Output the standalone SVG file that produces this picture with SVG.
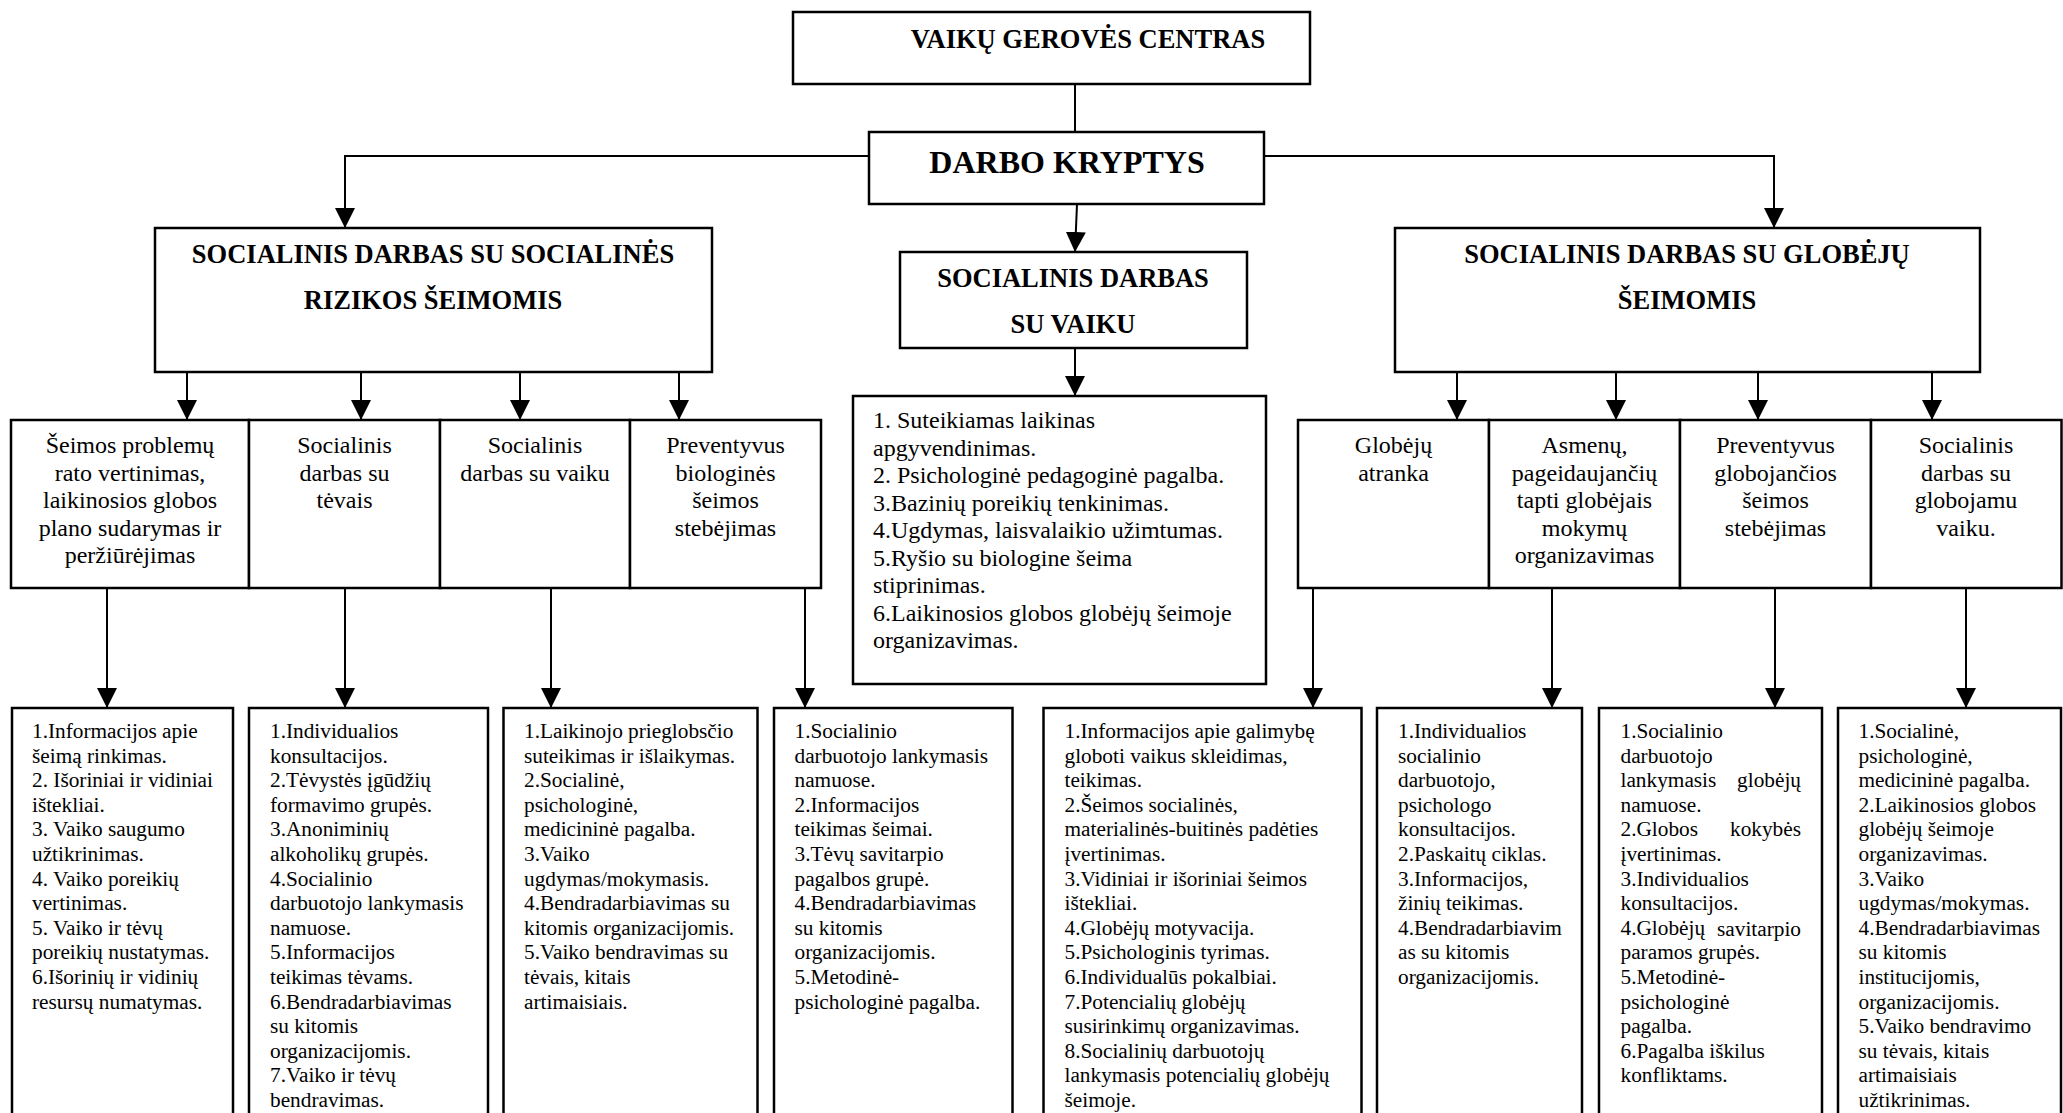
<svg xmlns="http://www.w3.org/2000/svg" width="2063" height="1113" viewBox="0 0 2063 1113">
<defs>
<marker id="arr" viewBox="0 0 20 20" refX="20" refY="10" markerWidth="20" markerHeight="20" markerUnits="userSpaceOnUse" orient="auto">
<path d="M0,0 L20,10 L0,20 Z" fill="#000"/>
</marker>
<style>
.box{fill:#fff;stroke:#000;stroke-width:2.5}
.cn{fill:none;stroke:#000;stroke-width:2;marker-end:url(#arr)}
.ln{fill:none;stroke:#000;stroke-width:2}
text{font-family:"Liberation Serif","Times New Roman",serif;fill:#000}
.h{font-weight:bold;font-size:26.5px;text-anchor:middle}
.hd{font-weight:bold;font-size:32px;text-anchor:middle}
.m{font-size:24px;text-anchor:middle}
.c{font-size:24px}
.b{font-size:21.3px}
.e{text-anchor:end}
</style>
</defs>
<rect width="2063" height="1113" fill="#fff"/>

<g id="connectors">
<line class="ln" x1="1075" y1="84" x2="1075" y2="132"/>
<polyline class="cn" points="869,156 345,156 345,228"/>
<polyline class="cn" points="1264,156 1774,156 1774,228"/>
<line class="cn" x1="1077" y1="204" x2="1075" y2="252"/>
<line class="cn" x1="187" y1="372" x2="187" y2="420"/>
<line class="cn" x1="361" y1="372" x2="361" y2="420"/>
<line class="cn" x1="520" y1="372" x2="520" y2="420"/>
<line class="cn" x1="679" y1="372" x2="679" y2="420"/>
<line class="cn" x1="1457" y1="372" x2="1457" y2="420"/>
<line class="cn" x1="1616" y1="372" x2="1616" y2="420"/>
<line class="cn" x1="1758" y1="372" x2="1758" y2="420"/>
<line class="cn" x1="1932" y1="372" x2="1932" y2="420"/>
<line class="cn" x1="1075" y1="348" x2="1075" y2="396"/>
<line class="cn" x1="107" y1="588" x2="107" y2="708"/>
<line class="cn" x1="345" y1="588" x2="345" y2="708"/>
<line class="cn" x1="551" y1="588" x2="551" y2="708"/>
<line class="cn" x1="805" y1="588" x2="805" y2="708"/>
<line class="cn" x1="1313" y1="588" x2="1313" y2="708"/>
<line class="cn" x1="1552" y1="588" x2="1552" y2="708"/>
<line class="cn" x1="1775" y1="588" x2="1775" y2="708"/>
<line class="cn" x1="1966" y1="588" x2="1966" y2="708"/>
</g>

<g id="vgc">
<rect class="box" x="793" y="12" width="517" height="72"/>
<text class="h" x="1088" y="48">VAIKŲ GEROVĖS CENTRAS</text>
</g>

<g id="darbo">
<rect class="box" x="869" y="132" width="395" height="72"/>
<text class="hd" x="1067" y="173">DARBO KRYPTYS</text>
</g>

<g id="rizikos">
<rect class="box" x="155" y="228" width="557" height="144"/>
<text class="h" x="433" y="263">SOCIALINIS DARBAS SU SOCIALINĖS</text>
<text class="h" x="433" y="309">RIZIKOS ŠEIMOMIS</text>
</g>

<g id="vaiku">
<rect class="box" x="900" y="252" width="347" height="96"/>
<text class="h" x="1073" y="287">SOCIALINIS DARBAS</text>
<text class="h" x="1073" y="333">SU VAIKU</text>
</g>

<g id="globeju">
<rect class="box" x="1395" y="228" width="585" height="144"/>
<text class="h" x="1687" y="263">SOCIALINIS DARBAS SU GLOBĖJŲ</text>
<text class="h" x="1687" y="309">ŠEIMOMIS</text>
</g>

<g id="l1">
<rect class="box" x="11" y="420" width="238" height="168"/>
<text class="m"><tspan x="130" y="453.3">Šeimos problemų</tspan><tspan x="130" dy="27.4">rato vertinimas,</tspan><tspan x="130" dy="27.4">laikinosios globos</tspan><tspan x="130" dy="27.4">plano sudarymas ir</tspan><tspan x="130" dy="27.4">peržiūrėjimas</tspan></text>
</g>
<g id="l2">
<rect class="box" x="249" y="420" width="191" height="168"/>
<text class="m"><tspan x="344.5" y="453.3">Socialinis</tspan><tspan x="344.5" dy="27.4">darbas su</tspan><tspan x="344.5" dy="27.4">tėvais</tspan></text>
</g>
<g id="l3">
<rect class="box" x="440" y="420" width="190" height="168"/>
<text class="m"><tspan x="535" y="453.3">Socialinis</tspan><tspan x="535" dy="27.4">darbas su vaiku</tspan></text>
</g>
<g id="l4">
<rect class="box" x="630" y="420" width="191" height="168"/>
<text class="m"><tspan x="725.5" y="453.3">Preventyvus</tspan><tspan x="725.5" dy="27.4">biologinės</tspan><tspan x="725.5" dy="27.4">šeimos</tspan><tspan x="725.5" dy="27.4">stebėjimas</tspan></text>
</g>

<g id="r1">
<rect class="box" x="1298" y="420" width="191" height="168"/>
<text class="m"><tspan x="1393.5" y="453.3">Globėjų</tspan><tspan x="1393.5" dy="27.4">atranka</tspan></text>
</g>
<g id="r2">
<rect class="box" x="1489" y="420" width="191" height="168"/>
<text class="m"><tspan x="1584.5" y="453.3">Asmenų,</tspan><tspan x="1584.5" dy="27.4">pageidaujančių</tspan><tspan x="1584.5" dy="27.4">tapti globėjais</tspan><tspan x="1584.5" dy="27.4">mokymų</tspan><tspan x="1584.5" dy="27.4">organizavimas</tspan></text>
</g>
<g id="r3">
<rect class="box" x="1680" y="420" width="191" height="168"/>
<text class="m"><tspan x="1775.5" y="453.3">Preventyvus</tspan><tspan x="1775.5" dy="27.4">globojančios</tspan><tspan x="1775.5" dy="27.4">šeimos</tspan><tspan x="1775.5" dy="27.4">stebėjimas</tspan></text>
</g>
<g id="r4">
<rect class="box" x="1871" y="420" width="190.5" height="168"/>
<text class="m"><tspan x="1966" y="453.3">Socialinis</tspan><tspan x="1966" dy="27.4">darbas su</tspan><tspan x="1966" dy="27.4">globojamu</tspan><tspan x="1966" dy="27.4">vaiku.</tspan></text>
</g>

<g id="vaiku-list">
<rect class="box" x="853" y="396" width="413" height="288"/>
<text class="c"><tspan x="873" y="428.3">1. Suteikiamas laikinas</tspan><tspan x="873" dy="27.5">apgyvendinimas.</tspan><tspan x="873" dy="27.5">2. Psichologinė pedagoginė pagalba.</tspan><tspan x="873" dy="27.5">3.Bazinių poreikių tenkinimas.</tspan><tspan x="873" dy="27.5">4.Ugdymas, laisvalaikio užimtumas.</tspan><tspan x="873" dy="27.5">5.Ryšio su biologine šeima</tspan><tspan x="873" dy="27.5">stiprinimas.</tspan><tspan x="873" dy="27.5">6.Laikinosios globos globėjų šeimoje</tspan><tspan x="873" dy="27.5">organizavimas.</tspan></text>
</g>

<g id="b1">
<rect class="box" x="12" y="708" width="221" height="430"/>
<text class="b"><tspan x="32" y="738">1.Informacijos apie</tspan><tspan x="32" dy="24.6">šeimą rinkimas.</tspan><tspan x="32" dy="24.6">2. Išoriniai ir vidiniai</tspan><tspan x="32" dy="24.6">ištekliai.</tspan><tspan x="32" dy="24.6">3. Vaiko saugumo</tspan><tspan x="32" dy="24.6">užtikrinimas.</tspan><tspan x="32" dy="24.6">4. Vaiko poreikių</tspan><tspan x="32" dy="24.6">vertinimas.</tspan><tspan x="32" dy="24.6">5. Vaiko ir tėvų</tspan><tspan x="32" dy="24.6">poreikių nustatymas.</tspan><tspan x="32" dy="24.6">6.Išorinių ir vidinių</tspan><tspan x="32" dy="24.6">resursų numatymas.</tspan></text>
</g>
<g id="b2">
<rect class="box" x="249" y="708" width="239" height="430"/>
<text class="b"><tspan x="270" y="738">1.Individualios</tspan><tspan x="270" dy="24.6">konsultacijos.</tspan><tspan x="270" dy="24.6">2.Tėvystės įgūdžių</tspan><tspan x="270" dy="24.6">formavimo grupės.</tspan><tspan x="270" dy="24.6">3.Anoniminių</tspan><tspan x="270" dy="24.6">alkoholikų grupės.</tspan><tspan x="270" dy="24.6">4.Socialinio</tspan><tspan x="270" dy="24.6">darbuotojo lankymasis</tspan><tspan x="270" dy="24.6">namuose.</tspan><tspan x="270" dy="24.6">5.Informacijos</tspan><tspan x="270" dy="24.6">teikimas tėvams.</tspan><tspan x="270" dy="24.6">6.Bendradarbiavimas</tspan><tspan x="270" dy="24.6">su kitomis</tspan><tspan x="270" dy="24.6">organizacijomis.</tspan><tspan x="270" dy="24.6">7.Vaiko ir tėvų</tspan><tspan x="270" dy="24.6">bendravimas.</tspan></text>
</g>
<g id="b3">
<rect class="box" x="503.5" y="708" width="254" height="430"/>
<text class="b"><tspan x="524" y="738">1.Laikinojo prieglobsčio</tspan><tspan x="524" dy="24.6">suteikimas ir išlaikymas.</tspan><tspan x="524" dy="24.6">2.Socialinė,</tspan><tspan x="524" dy="24.6">psichologinė,</tspan><tspan x="524" dy="24.6">medicininė pagalba.</tspan><tspan x="524" dy="24.6">3.Vaiko</tspan><tspan x="524" dy="24.6">ugdymas/mokymasis.</tspan><tspan x="524" dy="24.6">4.Bendradarbiavimas su</tspan><tspan x="524" dy="24.6">kitomis organizacijomis.</tspan><tspan x="524" dy="24.6">5.Vaiko bendravimas su</tspan><tspan x="524" dy="24.6">tėvais, kitais</tspan><tspan x="524" dy="24.6">artimaisiais.</tspan></text>
</g>
<g id="b4">
<rect class="box" x="774" y="708" width="238.5" height="430"/>
<text class="b"><tspan x="794.5" y="738">1.Socialinio</tspan><tspan x="794.5" dy="24.6">darbuotojo lankymasis</tspan><tspan x="794.5" dy="24.6">namuose.</tspan><tspan x="794.5" dy="24.6">2.Informacijos</tspan><tspan x="794.5" dy="24.6">teikimas šeimai.</tspan><tspan x="794.5" dy="24.6">3.Tėvų savitarpio</tspan><tspan x="794.5" dy="24.6">pagalbos grupė.</tspan><tspan x="794.5" dy="24.6">4.Bendradarbiavimas</tspan><tspan x="794.5" dy="24.6">su kitomis</tspan><tspan x="794.5" dy="24.6">organizacijomis.</tspan><tspan x="794.5" dy="24.6">5.Metodinė-</tspan><tspan x="794.5" dy="24.6">psichologinė pagalba.</tspan></text>
</g>
<g id="b5">
<rect class="box" x="1043.5" y="708" width="318" height="430"/>
<text class="b"><tspan x="1064.5" y="738">1.Informacijos apie galimybę</tspan><tspan x="1064.5" dy="24.6">globoti vaikus skleidimas,</tspan><tspan x="1064.5" dy="24.6">teikimas.</tspan><tspan x="1064.5" dy="24.6">2.Šeimos socialinės,</tspan><tspan x="1064.5" dy="24.6">materialinės-buitinės padėties</tspan><tspan x="1064.5" dy="24.6">įvertinimas.</tspan><tspan x="1064.5" dy="24.6">3.Vidiniai ir išoriniai šeimos</tspan><tspan x="1064.5" dy="24.6">ištekliai.</tspan><tspan x="1064.5" dy="24.6">4.Globėjų motyvacija.</tspan><tspan x="1064.5" dy="24.6">5.Psichologinis tyrimas.</tspan><tspan x="1064.5" dy="24.6">6.Individualūs pokalbiai.</tspan><tspan x="1064.5" dy="24.6">7.Potencialių globėjų</tspan><tspan x="1064.5" dy="24.6">susirinkimų organizavimas.</tspan><tspan x="1064.5" dy="24.6">8.Socialinių darbuotojų</tspan><tspan x="1064.5" dy="24.6">lankymasis potencialių globėjų</tspan><tspan x="1064.5" dy="24.6">šeimoje.</tspan></text>
</g>
<g id="b6">
<rect class="box" x="1377" y="708" width="205" height="430"/>
<text class="b"><tspan x="1398" y="738">1.Individualios</tspan><tspan x="1398" dy="24.6">socialinio</tspan><tspan x="1398" dy="24.6">darbuotojo,</tspan><tspan x="1398" dy="24.6">psichologo</tspan><tspan x="1398" dy="24.6">konsultacijos.</tspan><tspan x="1398" dy="24.6">2.Paskaitų ciklas.</tspan><tspan x="1398" dy="24.6">3.Informacijos,</tspan><tspan x="1398" dy="24.6">žinių teikimas.</tspan><tspan x="1398" dy="24.6">4.Bendradarbiavim</tspan><tspan x="1398" dy="24.6">as su kitomis</tspan><tspan x="1398" dy="24.6">organizacijomis.</tspan></text>
</g>
<g id="b7">
<rect class="box" x="1599" y="708" width="223" height="430"/>
<text class="b"><tspan x="1620.5" y="738">1.Socialinio</tspan><tspan x="1620.5" dy="24.6">darbuotojo</tspan><tspan x="1620.5" dy="24.6">lankymasis</tspan><tspan x="1620.5" dy="24.6">namuose.</tspan><tspan x="1620.5" dy="24.6">2.Globos</tspan><tspan x="1620.5" dy="24.6">įvertinimas.</tspan><tspan x="1620.5" dy="24.6">3.Individualios</tspan><tspan x="1620.5" dy="24.6">konsultacijos.</tspan><tspan x="1620.5" dy="24.6">4.Globėjų</tspan><tspan x="1620.5" dy="24.6">paramos grupės.</tspan><tspan x="1620.5" dy="24.6">5.Metodinė-</tspan><tspan x="1620.5" dy="24.6">psichologinė</tspan><tspan x="1620.5" dy="24.6">pagalba.</tspan><tspan x="1620.5" dy="24.6">6.Pagalba iškilus</tspan><tspan x="1620.5" dy="24.6">konfliktams.</tspan></text>
<text class="b e"><tspan x="1801" y="787.2">globėjų</tspan><tspan x="1801" y="836.4">kokybės</tspan><tspan x="1801" y="935.8">savitarpio</tspan></text>
</g>
<g id="b8">
<rect class="box" x="1838" y="708" width="223" height="430"/>
<text class="b"><tspan x="1858.5" y="738">1.Socialinė,</tspan><tspan x="1858.5" dy="24.6">psichologinė,</tspan><tspan x="1858.5" dy="24.6">medicininė pagalba.</tspan><tspan x="1858.5" dy="24.6">2.Laikinosios globos</tspan><tspan x="1858.5" dy="24.6">globėjų šeimoje</tspan><tspan x="1858.5" dy="24.6">organizavimas.</tspan><tspan x="1858.5" dy="24.6">3.Vaiko</tspan><tspan x="1858.5" dy="24.6">ugdymas/mokymas.</tspan><tspan x="1858.5" dy="24.6">4.Bendradarbiavimas</tspan><tspan x="1858.5" dy="24.6">su kitomis</tspan><tspan x="1858.5" dy="24.6">institucijomis,</tspan><tspan x="1858.5" dy="24.6">organizacijomis.</tspan><tspan x="1858.5" dy="24.6">5.Vaiko bendravimo</tspan><tspan x="1858.5" dy="24.6">su tėvais, kitais</tspan><tspan x="1858.5" dy="24.6">artimaisiais</tspan><tspan x="1858.5" dy="24.6">užtikrinimas.</tspan></text>
</g>
</svg>
